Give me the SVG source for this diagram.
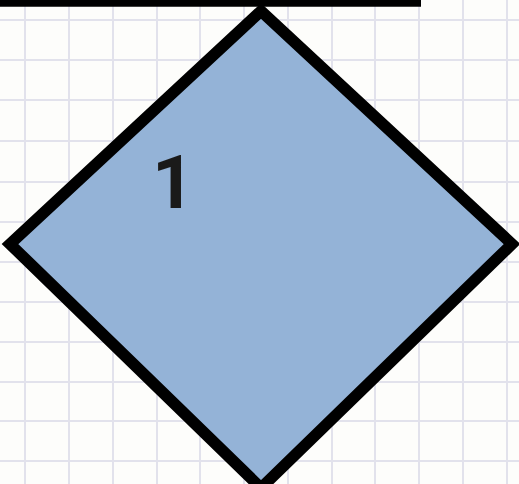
<svg xmlns="http://www.w3.org/2000/svg" width="519" height="484" viewBox="0 0 519 484">
  <style>
    .grid line { stroke: #e2e2ec; stroke-width: 2; }
    .shape { fill: #94b3d7; stroke: #000; stroke-width: 11.5; stroke-linejoin: miter; stroke-miterlimit: 10; }
    .conn { stroke: #000; stroke-width: 7; fill: none; }
  </style>
  <rect x="0" y="0" width="519" height="484" fill="#fdfdfb"/>
  <g class="grid">
    <line x1="25" y1="0" x2="25" y2="484"/>
    <line x1="69" y1="0" x2="69" y2="484"/>
    <line x1="113" y1="0" x2="113" y2="484"/>
    <line x1="157" y1="0" x2="157" y2="484"/>
    <line x1="200" y1="0" x2="200" y2="484"/>
    <line x1="244" y1="0" x2="244" y2="484"/>
    <line x1="288" y1="0" x2="288" y2="484"/>
    <line x1="332" y1="0" x2="332" y2="484"/>
    <line x1="375" y1="0" x2="375" y2="484"/>
    <line x1="419" y1="0" x2="419" y2="484"/>
    <line x1="463" y1="0" x2="463" y2="484"/>
    <line x1="507" y1="0" x2="507" y2="484"/>
    <line x1="0" y1="20" x2="519" y2="20"/>
    <line x1="0" y1="60" x2="519" y2="60"/>
    <line x1="0" y1="100" x2="519" y2="100"/>
    <line x1="0" y1="141" x2="519" y2="141"/>
    <line x1="0" y1="182" x2="519" y2="182"/>
    <line x1="0" y1="222" x2="519" y2="222"/>
    <line x1="0" y1="262" x2="519" y2="262"/>
    <line x1="0" y1="302" x2="519" y2="302"/>
    <line x1="0" y1="342" x2="519" y2="342"/>
    <line x1="0" y1="382" x2="519" y2="382"/>
    <line x1="0" y1="421" x2="519" y2="421"/>
    <line x1="0" y1="461" x2="519" y2="461"/>
  </g>
  <g id="node-1">
    <polygon class="shape" points="261,11 512,244 261,488 10,244"/>
    <text x="152" y="208" font-family="Roboto, 'Liberation Sans', sans-serif" font-weight="700" font-size="74" fill="#1a1a1a">1</text>
  </g>
  <g id="connectors">
    <line class="conn" x1="0" y1="3.3" x2="421" y2="3.3"/>
  </g>
</svg>
